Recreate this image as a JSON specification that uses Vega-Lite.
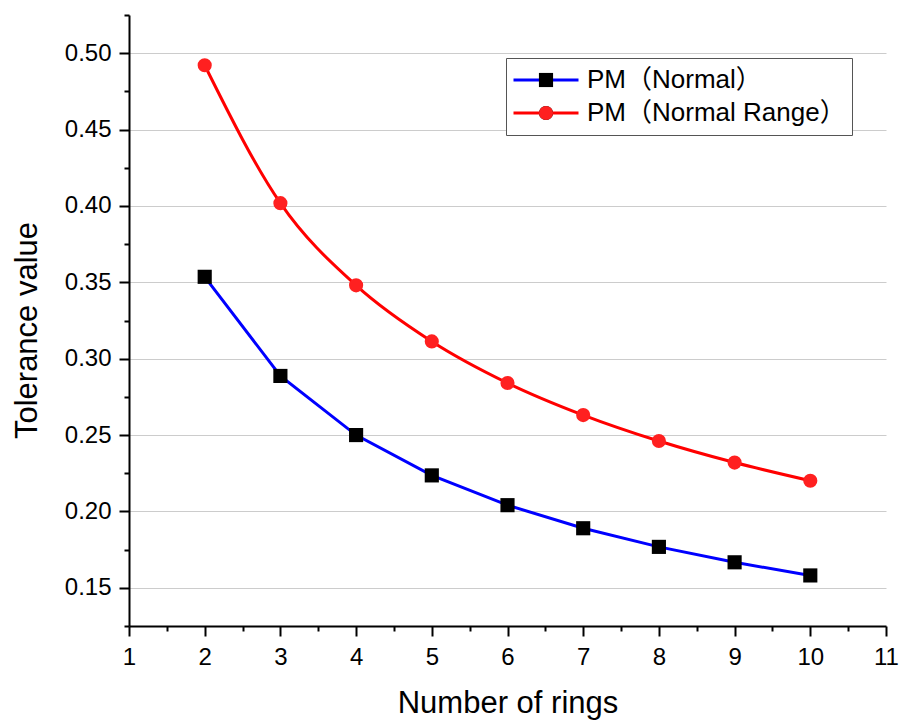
{
  "$schema": "https://vega.github.io/schema/vega-lite/v6.json",
  "width": 757,
  "height": 611,
  "autosize": {"type": "none"},
  "padding": {"left": 129, "top": 15, "right": 13, "bottom": 96},
  "background": "white",
  "config": {
    "view": {"stroke": null},
    "font": "Liberation Sans, Noto Sans CJK SC"
  },
  "data": {
    "values": [
      {"rings": 2, "value": 0.3536, "series": "PM（Normal）"},
      {"rings": 3, "value": 0.2887, "series": "PM（Normal）"},
      {"rings": 4, "value": 0.25, "series": "PM（Normal）"},
      {"rings": 5, "value": 0.2236, "series": "PM（Normal）"},
      {"rings": 6, "value": 0.2041, "series": "PM（Normal）"},
      {"rings": 7, "value": 0.189, "series": "PM（Normal）"},
      {"rings": 8, "value": 0.1768, "series": "PM（Normal）"},
      {"rings": 9, "value": 0.1667, "series": "PM（Normal）"},
      {"rings": 10, "value": 0.1581, "series": "PM（Normal）"},
      {"rings": 2, "value": 0.4921, "series": "PM（Normal Range）"},
      {"rings": 3, "value": 0.4018, "series": "PM（Normal Range）"},
      {"rings": 4, "value": 0.348, "series": "PM（Normal Range）"},
      {"rings": 5, "value": 0.3113, "series": "PM（Normal Range）"},
      {"rings": 6, "value": 0.2841, "series": "PM（Normal Range）"},
      {"rings": 7, "value": 0.2631, "series": "PM（Normal Range）"},
      {"rings": 8, "value": 0.2461, "series": "PM（Normal Range）"},
      {"rings": 9, "value": 0.232, "series": "PM（Normal Range）"},
      {"rings": 10, "value": 0.2201, "series": "PM（Normal Range）"}
    ]
  },
  "encoding": {
    "x": {
      "field": "rings",
      "type": "quantitative",
      "scale": {"domain": [1, 11], "nice": false, "zero": false},
      "axis": {
        "title": "Number of rings",
        "titleFontSize": 31,
        "titleFontWeight": "normal",
        "titleColor": "black",
        "titlePadding": 19,
        "values": [1, 1.5, 2, 2.5, 3, 3.5, 4, 4.5, 5, 5.5, 6, 6.5, 7, 7.5, 8, 8.5, 9, 9.5, 10, 10.5, 11],
        "labelExpr": "abs(datum.value - round(datum.value)) < 0.001 ? format(datum.value, 'd') : ''",
        "labelFontSize": 24,
        "labelColor": "black",
        "labelPadding": 9,
        "labelFlush": false,
        "labelOverlap": false,
        "grid": false,
        "domainColor": "black",
        "domainWidth": 2,
        "tickColor": "black",
        "tickWidth": 2,
        "tickSize": {"condition": {"test": "abs(datum.value - round(datum.value)) < 0.001", "value": 10}, "value": 5}
      }
    },
    "y": {
      "field": "value",
      "type": "quantitative",
      "scale": {"domain": [0.125, 0.525], "nice": false, "zero": false},
      "axis": {
        "title": "Tolerance value",
        "titleFontSize": 31,
        "titleFontWeight": "normal",
        "titleColor": "black",
        "titlePadding": 21,
        "titleY": 315,
        "values": [0.125, 0.15, 0.175, 0.2, 0.225, 0.25, 0.275, 0.3, 0.325, 0.35, 0.375, 0.4, 0.425, 0.45, 0.475, 0.5, 0.525],
        "labelExpr": "abs(datum.value * 20 - round(datum.value * 20)) < 0.001 ? format(datum.value, '.2f') : ''",
        "labelFontSize": 24,
        "labelColor": "black",
        "labelPadding": 8,
        "labelFlush": false,
        "labelOverlap": false,
        "grid": true,
        "gridColor": "#cccccc",
        "gridWidth": 1,
        "gridOpacity": {"condition": {"test": "abs(datum.value * 20 - round(datum.value * 20)) < 0.001", "value": 1}, "value": 0},
        "domainColor": "black",
        "domainWidth": 2,
        "tickColor": "black",
        "tickWidth": 2,
        "tickSize": {"condition": {"test": "abs(datum.value * 20 - round(datum.value * 20)) < 0.001", "value": 10}, "value": 5}
      }
    }
  },
  "layer": [
    {
      "transform": [{"filter": "datum.series == 'PM（Normal）'"}],
      "mark": {"type": "line", "strokeWidth": 3, "interpolate": "linear"},
      "encoding": {
        "stroke": {
          "field": "series",
          "type": "nominal",
          "scale": {"domain": ["PM（Normal）", "PM（Normal Range）"], "range": ["#0000ff", "#ff0000"]},
          "legend": {
            "orient": "none",
            "legendX": 377,
            "legendY": 43,
            "title": null,
            "symbolType": "stroke",
            "symbolSize": 4225,
            "symbolStrokeWidth": 3,
            "labelFontSize": 26,
            "labelColor": "black",
            "labelLimit": 400,
            "labelOffset": 7,
            "strokeColor": "#555555",
            "fillColor": "white",
            "padding": 6,
            "rowPadding": 1,
            "clipHeight": 32
          }
        }
      }
    },
    {
      "transform": [{"filter": "datum.series == 'PM（Normal Range）'"}],
      "mark": {"type": "line", "strokeWidth": 3, "interpolate": "monotone"},
      "encoding": {
        "stroke": {"field": "series", "type": "nominal"}
      }
    },
    {
      "mark": {"type": "point", "filled": true, "opacity": 1, "size": 200},
      "encoding": {
        "shape": {
          "field": "series",
          "type": "nominal",
          "sort": ["PM（Normal）", "PM（Normal Range）"],
          "scale": {"range": ["square", "circle"]},
          "legend": {
            "orient": "none",
            "legendX": 398,
            "legendY": 43,
            "title": null,
            "symbolSize": 200,
            "symbolOpacity": 1,
            "labelFontSize": 26,
            "labelExpr": "' '",
            "padding": 6,
            "rowPadding": 1,
            "clipHeight": 32
          }
        },
        "fill": {
          "field": "series",
          "type": "nominal",
          "sort": ["PM（Normal）", "PM（Normal Range）"],
          "scale": {"range": ["#000000", "#ff2020"]},
          "legend": {
            "orient": "none",
            "legendX": 398,
            "legendY": 43,
            "title": null,
            "symbolSize": 200,
            "symbolOpacity": 1,
            "labelFontSize": 26,
            "labelExpr": "' '",
            "padding": 6,
            "rowPadding": 1,
            "clipHeight": 32
          }
        }
      }
    }
  ]
}
